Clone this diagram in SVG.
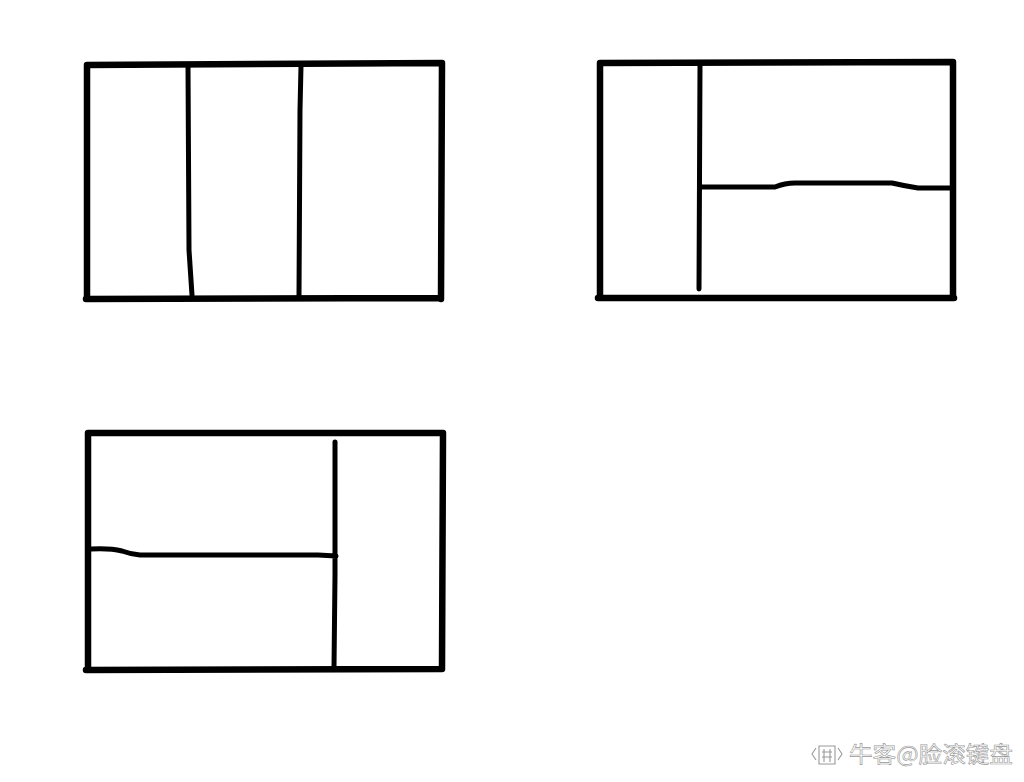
<svg xmlns="http://www.w3.org/2000/svg" width="1024" height="782" viewBox="0 0 1024 782">
<style>
.o{fill:none;stroke:#000;stroke-width:6.5;stroke-linecap:round;stroke-linejoin:round}
.i{fill:none;stroke:#000;stroke-width:5;stroke-linecap:round;stroke-linejoin:round}
.wm{font-family:"Noto Sans CJK SC","Liberation Sans",sans-serif;font-size:22px;fill:#fff;stroke:#999;stroke-width:0.6}
.ic{fill:none;stroke:#999;stroke-width:1.1}
</style>
<rect width="1024" height="782" fill="#fff"/>
<g id="layout1">
<path class="o" d="M87 65 L442 63 M87 65 L87 299 M442 63 L441 299 M86 299 L441 298"/>
<path class="i" d="M188 66 L189 250 L192 295 M301 66 L300 110 L299 296"/>
</g>
<g id="layout2">
<path class="o" d="M600 63 L953 62 M600 63 L600 298 M953 62 L953 298 M598 298 L954 298"/>
<path class="i" d="M700 65 L699 289 M700 187 L775 187 Q785 183 795 183 L892 183 Q905 186 918 188 L952 188"/>
</g>
<g id="layout3">
<path class="o" d="M88 433 L443 433 M88 433 L88 670 M443 433 L442 669 M86 670 L442 669"/>
<path class="i" d="M335 442 L335 575 L334 668 M91 549 Q110 548 122 551 Q130 554 140 555 L318 555 L336 556"/>
</g>
<g id="watermark">
<path class="ic" d="M816 748 L812 754 L816 760 M838 748 L842 754 L838 760 M819 746 L835 746 L835 764 L819 764 Z M822 752 L832 752 M822 757 L832 757 M824 749 L824 762 M830 749 L830 762"/>
<text class="wm" x="849" y="762" textLength="164" lengthAdjust="spacingAndGlyphs">牛客@脸滚键盘</text>
</g>
</svg>
